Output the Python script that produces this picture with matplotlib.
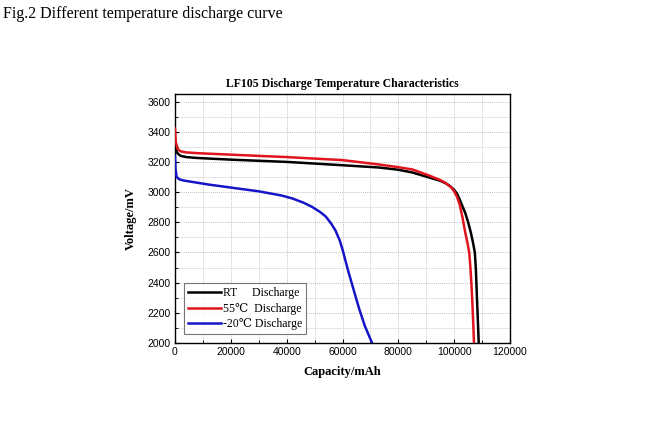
import matplotlib
matplotlib.use("Agg")
import matplotlib.pyplot as plt
from matplotlib.ticker import MultipleLocator

# ---- data ----
rt_cap = [0, 300, 1000, 2000, 4000, 8000, 20000, 40000, 60000, 73000, 80000, 85000, 91000,
          95000, 97000, 98500, 100000, 101000, 102000, 103000, 104000, 105000, 106000,
          106800, 107400, 107800, 108100, 108400, 108800]
rt_v = [3330, 3280, 3255, 3240, 3232, 3226, 3215, 3200, 3178, 3163, 3148, 3130, 3097,
        3075, 3058, 3040, 3015, 2990, 2950, 2905, 2860, 2800, 2730,
        2660, 2600, 2480, 2330, 2190, 2000]

hot_cap = [0, 300, 1000, 2000, 4000, 8000, 20000, 40000, 60000, 73000, 80000, 85000, 91000,
           95000, 97000, 99000, 100000, 101000, 102000, 103000, 104000, 104800, 105400,
           105900, 106300, 106600, 106900, 107100]
hot_v = [3420, 3330, 3285, 3270, 3263, 3258, 3248, 3232, 3212, 3183, 3165, 3150, 3110,
         3080, 3060, 3030, 3005, 2970, 2915, 2830, 2730, 2660, 2600,
         2480, 2350, 2230, 2100, 2000]

cold_cap = [0, 200, 600, 1500, 3000, 6000, 12000, 20000, 30000, 38000, 42000, 46000, 49000,
            52000, 54000, 56000, 57500, 59000, 60000, 61000, 62000, 64000, 66000, 68000, 70600]
cold_v = [3240, 3150, 3100, 3085, 3077, 3068, 3050, 3030, 3005, 2978, 2958, 2930, 2903,
          2868, 2838, 2790, 2745, 2680, 2620, 2550, 2480, 2352, 2225, 2113, 2000]

labels = ["RT     Discharge", "55\u2103  Discharge", "-20\u2103 Discharge"]
colors = ["#000000", "#e0141e", "#1515c8"]
x_ticks = [0, 20000, 40000, 60000, 80000, 100000, 120000]
y_ticks = [2000, 2200, 2400, 2600, 2800, 3000, 3200, 3400, 3600]

serif = ["Liberation Serif", "DejaVu Serif", "DejaVu Sans"]
sans = ["Liberation Sans", "DejaVu Sans"]

fig = plt.figure(figsize=(6.6, 4.29), dpi=100)
fig.patch.set_facecolor("white")
ax = fig.add_axes([175/660, 1-343/429, (510-175)/660, (343-94)/429])

for cap, v, lab, c in zip([rt_cap, hot_cap, cold_cap], [rt_v, hot_v, cold_v], labels, colors):
    ax.plot(cap, v, color=c, lw=1.8, label=lab, zorder=3, solid_joinstyle="round")

ax.set_xlim(0, 120000)
ax.set_ylim(2000, 3650)
ax.set_xticks(x_ticks)
ax.set_yticks(y_ticks)
ax.xaxis.set_minor_locator(MultipleLocator(10000))
ax.yaxis.set_minor_locator(MultipleLocator(100))
ax.tick_params(which="both", direction="in", top=False, right=False)
ax.tick_params(which="major", length=3, width=0.8, labelsize=7.5, pad=3)
ax.tick_params(which="minor", length=2, width=0.6)
for lab in ax.get_xticklabels() + ax.get_yticklabels():
    lab.set_family(sans)

ax.grid(which="major", color="#aaaaaa", linestyle=(0, (1, 1.5)), linewidth=0.6)
ax.grid(which="minor", color="#e2e2e2", linestyle="-", linewidth=0.6)
ax.set_axisbelow(True)
for s in ax.spines.values():
    s.set_linewidth(1.0)

ax.set_title("LF105 Discharge Temperature Characteristics", fontsize=8.5,
             fontweight="bold", family=serif, pad=5)
ax.set_xlabel("Capacity/mAh", fontsize=9, fontweight="bold", family=serif, labelpad=6)
ax.set_ylabel("Voltage/mV", fontsize=9, fontweight="bold", family=serif, labelpad=8)

leg = ax.legend(loc="lower left", bbox_to_anchor=(0.015, 0.02), prop={"family": serif, "size": 8.5},
                frameon=True, fancybox=False, edgecolor="#555555", handlelength=2.8,
                handletextpad=0.2, borderpad=0.35, labelspacing=0.3, borderaxespad=0.3)
leg.get_frame().set_linewidth(0.8)

fig.text(0.005, 0.985, "Fig.2 Different temperature discharge curve", fontsize=11.5,
         family=serif, va="top", ha="left")

fig.savefig("out.png", dpi=100, facecolor="white")
